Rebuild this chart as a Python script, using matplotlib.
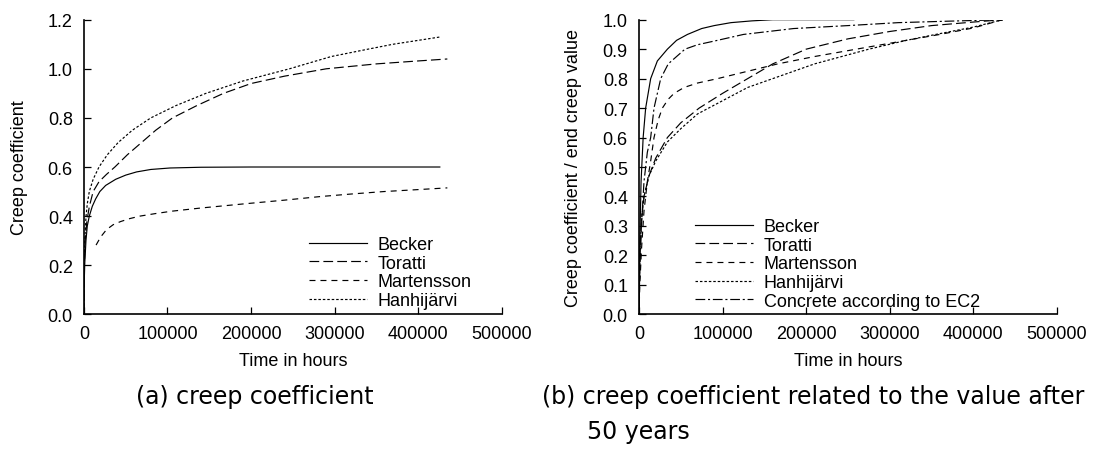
import matplotlib
matplotlib.use("Agg")
import matplotlib.pyplot as plt
from matplotlib.ticker import FormatStrFormatter

plt.rcParams['font.family'] = ['Liberation Sans', 'DejaVu Sans']
plt.rcParams['lines.scale_dashes'] = False

# (a) creep coefficient over time in hours
becker_t = [0, 300, 1000, 2400, 4000, 6400, 10000, 14000, 19000, 26000, 38000, 50000,
            63000, 80000, 103000, 140000, 200000, 426000]
becker = [0, 0.13, 0.21, 0.3, 0.36, 0.4, 0.44, 0.47, 0.5, 0.525, 0.55, 0.567,
          0.58, 0.59, 0.596, 0.599, 0.6, 0.6]

toratti_t = [0, 500, 1500, 3500, 6500, 11000, 18000, 27000, 37000, 52000, 69000, 86000,
             106000, 135000, 167000, 200000, 240000, 290000, 350000, 400000, 435000]
toratti = [0, 0.2, 0.3, 0.38, 0.44, 0.5, 0.54, 0.57, 0.6, 0.65, 0.7, 0.75,
           0.8, 0.85, 0.9, 0.94, 0.97, 1.0, 1.02, 1.032, 1.04]

mart_t = [14500, 20000, 27000, 35000, 44000, 55000, 67000, 85000, 105000, 140000,
          192000, 240000, 284000, 320000, 359000, 400000, 435000]
mart = [0.282, 0.315, 0.345, 0.365, 0.378, 0.39, 0.4, 0.41, 0.42, 0.433,
        0.45, 0.465, 0.48, 0.49, 0.5, 0.508, 0.515]

hanhi_t = [0, 300, 1000, 2500, 4000, 6400, 11000, 18000, 28000, 41000, 58000, 80000,
           110000, 146000, 190000, 246000, 296000, 340000, 370000, 427000]
hanhi = [0, 0.2, 0.3, 0.4, 0.45, 0.5, 0.55, 0.6, 0.65, 0.7, 0.75, 0.8,
         0.85, 0.9, 0.95, 1.0, 1.05, 1.08, 1.1, 1.13]

# (b) related to the value after 50 years
becker_b_t = [0, 1000, 2500, 5000, 8000, 14000, 22000, 34000, 45000, 58000, 75000, 90000,
              110000, 135000, 160000, 200000, 257000]
becker_b = [0, 0.25, 0.45, 0.6, 0.7, 0.8, 0.86, 0.9, 0.93, 0.95, 0.97, 0.98,
            0.99, 0.996, 1.0, 1.0, 1.0]

toratti_b_t = [0, 1000, 3000, 6000, 12000, 20000, 34000, 50000, 72000, 100000, 130000,
               160000, 200000, 250000, 300000, 350000, 400000, 435000]
toratti_b = [0, 0.2, 0.32, 0.4, 0.47, 0.53, 0.6, 0.65, 0.7, 0.75, 0.8,
             0.85, 0.9, 0.935, 0.96, 0.98, 0.992, 1.0]

mart_b_t = [0, 1000, 3000, 6000, 10000, 14000, 18000, 23000, 28000, 35000, 42000, 54000,
            70000, 94000, 130000, 166000, 210000, 260000, 310000, 360000, 400000, 435000]
mart_b = [0, 0.1, 0.22, 0.35, 0.45, 0.52, 0.6, 0.66, 0.7, 0.73, 0.75, 0.77,
          0.785, 0.8, 0.825, 0.85, 0.875, 0.9, 0.925, 0.95, 0.972, 1.0]

hanhi_b_t = [0, 1000, 3000, 6000, 12000, 20000, 34000, 50000, 70000, 100000, 130000,
             160000, 210000, 275000, 320000, 355000, 400000, 435000]
hanhi_b = [0, 0.2, 0.32, 0.4, 0.47, 0.52, 0.585, 0.63, 0.68, 0.725, 0.77,
           0.8, 0.85, 0.9, 0.93, 0.95, 0.975, 1.0]

ec2_t = [0, 1000, 3000, 6000, 10000, 14000, 18000, 26000, 35000, 55000, 70000, 94000,
         125000, 185000, 250000, 310000, 370000, 435000]
ec2 = [0, 0.15, 0.3, 0.45, 0.55, 0.6, 0.7, 0.8, 0.85, 0.9, 0.915, 0.93,
       0.95, 0.97, 0.98, 0.99, 0.995, 1.0]

x_ticks = [0, 100000, 200000, 300000, 400000, 500000]

# line styles (dash lengths in points)
styles = {
    'Becker': dict(linestyle='-'),
    'Toratti': dict(dashes=(7, 3)),
    'Martensson': dict(dashes=(4.3, 3.6)),
    'Hanhijärvi': dict(dashes=(1.8, 1.4)),
    'Concrete according to EC2': dict(dashes=(7, 2, 1.5, 2)),
}
lw = 0.85

fig = plt.figure(figsize=(10.96, 4.52), dpi=100)
ax1 = fig.add_axes([0.0766, 0.3024, 0.3811, 0.6518])
ax2 = fig.add_axes([0.583, 0.3024, 0.3814, 0.6518])

ax1.plot(becker_t, becker, color='black', lw=lw, label='Becker', **styles['Becker'])
ax1.plot(toratti_t, toratti, color='black', lw=lw, label='Toratti', **styles['Toratti'])
ax1.plot(mart_t, mart, color='black', lw=lw, label='Martensson', **styles['Martensson'])
ax1.plot(hanhi_t, hanhi, color='black', lw=lw, label='Hanhijärvi', **styles['Hanhijärvi'])

ax2.plot(becker_b_t, becker_b, color='black', lw=lw, label='Becker', **styles['Becker'])
ax2.plot(toratti_b_t, toratti_b, color='black', lw=lw, label='Toratti', **styles['Toratti'])
ax2.plot(mart_b_t, mart_b, color='black', lw=lw, label='Martensson', **styles['Martensson'])
ax2.plot(hanhi_b_t, hanhi_b, color='black', lw=lw, label='Hanhijärvi', **styles['Hanhijärvi'])
ax2.plot(ec2_t, ec2, color='black', lw=lw, label='Concrete according to EC2',
         **styles['Concrete according to EC2'])

for ax, ymax, ystep in [(ax1, 1.2, 0.2), (ax2, 1.0, 0.1)]:
    ax.set_xlim(0, 500000)
    ax.set_ylim(0, ymax)
    ax.set_xticks(x_ticks)
    ax.set_xticklabels([str(v) for v in x_ticks])
    n = int(round(ymax / ystep))
    ax.set_yticks([i * ystep for i in range(n + 1)])
    ax.yaxis.set_major_formatter(FormatStrFormatter('%.1f'))
    ax.spines['top'].set_visible(False)
    ax.spines['right'].set_visible(False)
    ax.spines['left'].set_linewidth(1.2)
    ax.spines['bottom'].set_linewidth(1.2)
    ax.tick_params(direction='in', length=5, width=0.9, labelsize=13, pad=8)
    ax.set_xlabel('Time in hours', fontsize=13, labelpad=7)

ax1.set_ylabel('Creep coefficient', fontsize=13)
ax2.set_ylabel('Creep coefficient / end creep value', fontsize=13)
ax1.yaxis.set_label_coords(-0.134, 0.5)
ax2.yaxis.set_label_coords(-0.136, 0.5)

ax1.legend(loc='lower left', bbox_to_anchor=(0.539, 0.018), frameon=False, fontsize=13,
           handlelength=3.2, handletextpad=0.6, labelspacing=0.09,
           borderpad=0, borderaxespad=0)
ax2.legend(loc='lower left', bbox_to_anchor=(0.134, 0.016), frameon=False, fontsize=13,
           handlelength=3.2, handletextpad=0.6, labelspacing=0.09,
           borderpad=0, borderaxespad=0)

cap_font = ['DejaVu Sans']
fig.text(136 / 1096, 1 - 397 / 452, '(a) creep coefficient', fontsize=17,
         family=cap_font, ha='left', va='center')
fig.text(542 / 1096, 1 - 397 / 452, '(b) creep coefficient related to the value after',
         fontsize=17, family=cap_font, ha='left', va='center')
fig.text(587 / 1096, 1 - 432 / 452, '50 years', fontsize=17, family=cap_font,
         ha='left', va='center')

fig.savefig('out.png', dpi=100)
